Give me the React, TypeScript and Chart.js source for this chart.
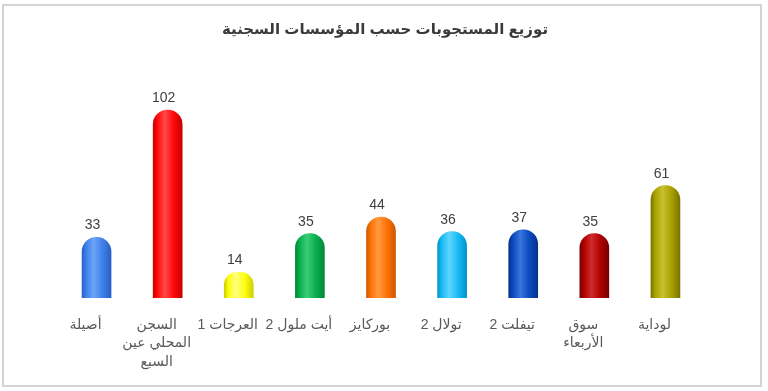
import React, { useEffect, useRef } from "react";
import { Chart, registerables } from "chart.js";

Chart.register(...registerables);

const title = "توزيع المستجوبات حسب المؤسسات السجنية";
const categories: string[][] = [
  ["أصيلة"],
  ["السجن", "المحلي عين", "السبع"],
  ["العرجات 1"],
  ["أيت ملول 2"],
  ["بوركايز"],
  ["تولال 2"],
  ["تيفلت 2"],
  ["سوق", "الأربعاء"],
  ["لوداية"],
];
const values = [33, 102, 14, 35, 44, 36, 37, 35, 61];
const baseColors = ["#3f82ec", "#ff0a0a", "#ffff10", "#08b04e", "#ff7306", "#18bcf4", "#0b4cc0", "#b00202", "#aaa200"];
const edgeColors = ["#2a60c4", "#c80000", "#d0d000", "#008a3a", "#d05800", "#0094cc", "#06328a", "#780000", "#7a7400"];
const lightColors = ["#6ea4f6", "#ff4a4a", "#ffff80", "#3ccc78", "#ff9a40", "#60d4fc", "#3a74dc", "#d02a2a", "#c8c030"];

const BAR_W = 29;

const decorPlugin = {
  id: "decor",
  beforeDraw(chart: any) {
    const ctx = chart.ctx;
    ctx.save();
    ctx.fillStyle = "#ffffff";
    ctx.fillRect(0, 0, chart.width, chart.height);
    ctx.strokeStyle = "#d4d4d4";
    ctx.lineWidth = 2;
    ctx.strokeRect(3, 5, 758, 381);
    ctx.restore();
  },
  afterDatasetsDraw(chart: any) {
    const ctx = chart.ctx;
    const xs = chart.scales.x;
    const ys = chart.scales.y;
    ctx.save();
    ctx.fillStyle = "#3a3a3a";
    ctx.font = "bold 15px Arial, 'DejaVu Sans', sans-serif";
    ctx.textAlign = "center";
    ctx.textBaseline = "middle";
    ctx.fillText(title, 385, 30);
    ctx.font = "14px Arial, 'Liberation Sans', sans-serif";
    ctx.fillStyle = "#404040";
    ctx.textBaseline = "alphabetic";
    values.forEach((v, i) => {
      const x = xs.getPixelForValue(i) - 4;
      const y = ys.getPixelForValue(v) - 8;
      ctx.fillText(String(v), x, y);
    });
    ctx.font = "14px Arial, 'DejaVu Sans', sans-serif";
    ctx.fillStyle = "#595959";
    ctx.textBaseline = "middle";
    categories.forEach((lines, i) => {
      const x = xs.getPixelForValue(i) - 11;
      lines.forEach((ln, j) => {
        ctx.fillText(ln, x, 325 + j * 18.5);
      });
    });
    ctx.restore();
  },
};

export default function App() {
  const ref = useRef<HTMLCanvasElement | null>(null);
  useEffect(() => {
    document.body.style.margin = "0";
    const canvas = ref.current!;
    const chart = new Chart(canvas, {
      type: "bar",
      data: {
        labels: categories.map((c) => c.join(" ")),
        datasets: [
          {
            data: values,
            barThickness: BAR_W,
            borderRadius: { topLeft: 15, topRight: 15, bottomLeft: 0, bottomRight: 0 },
            borderSkipped: "bottom",
            backgroundColor: (c: any) => {
              const i = c.dataIndex ?? 0;
              const chartRef = c.chart;
              const xs = chartRef.scales && chartRef.scales.x;
              if (!xs) return baseColors[i];
              const x = xs.getPixelForValue(i);
              if (!isFinite(x)) return baseColors[i];
              const g = chartRef.ctx.createLinearGradient(x - BAR_W / 2, 0, x + BAR_W / 2, 0);
              g.addColorStop(0, edgeColors[i]);
              g.addColorStop(0.15, baseColors[i]);
              g.addColorStop(0.4, lightColors[i]);
              g.addColorStop(0.7, baseColors[i]);
              g.addColorStop(1, edgeColors[i]);
              return g;
            },
          },
        ],
      },
      options: {
        animation: false,
        responsive: false,
        layout: { padding: { left: 61, right: 67, top: 77, bottom: 93 } },
        plugins: { legend: { display: false }, title: { display: false }, tooltip: { enabled: false } },
        scales: {
          x: { display: false },
          y: { display: false, min: 0, max: 120 },
        },
      },
      plugins: [decorPlugin],
    });
    return () => chart.destroy();
  }, []);
  return (
    <div style={{ width: 768, height: 391 }}>
      <canvas ref={ref} width={768} height={391} style={{ display: "block" }} />
    </div>
  );
}
